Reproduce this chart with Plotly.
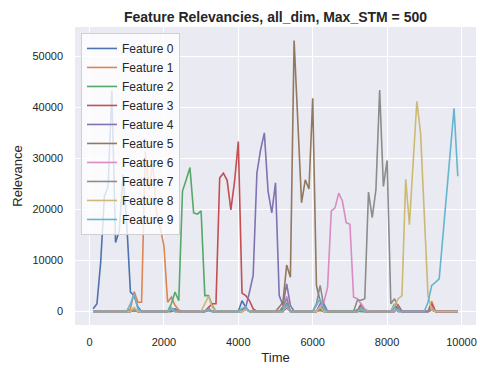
import plotly.graph_objects as go

time = list(range(100, 10000, 100))  # 99 points

def series(points):
    vals = {t: 0 for t in time}
    vals.update(points)
    return [vals[t] for t in time]

feature_0 = series({100: 520, 200: 1500, 300: 9600, 400: 22600, 500: 24500, 600: 43300, 700: 13500,
                    800: 15800, 900: 26800, 1000: 17400, 1100: 3800, 1200: 3100, 1300: 850,
                    2200: 300, 2300: 500, 3200: 200, 4100: 2100, 4200: 800, 5200: 500, 5300: 1500,
                    6200: 1000, 7200: 300, 8200: 800, 9200: 300})
feature_1 = series({1100: 500, 1200: 3900, 1300: 1830, 1400: 1800, 1500: 31400, 1600: 23900,
                    1700: 29100, 1800: 19400, 1900: 16500, 2000: 12900, 2100: 1800, 2200: 2800,
                    2300: 1200, 2400: 300, 3200: 600, 4200: 500, 5300: 800, 6200: 600, 7300: 400,
                    8300: 1000, 9200: 2000})
feature_2 = series({1200: 300, 2200: 1500, 2300: 3800, 2400: 2100, 2500: 23600, 2600: 25800,
                    2700: 28200, 2800: 19300, 2900: 19100, 3000: 19700, 3100: 3100, 3200: 3100,
                    3300: 1200, 4200: 400, 5300: 1200, 6200: 200, 8200: 1500, 9200: 500})
feature_3 = series({1200: 200, 2300: 300, 3200: 800, 3300: 1500, 3400: 1500, 3500: 26200,
                    3600: 27100, 3700: 25700, 3800: 19900, 3900: 25500, 4000: 33300, 4100: 3600,
                    4200: 3100, 4300: 2100, 4400: 500, 5300: 800, 6200: 500, 7300: 1500,
                    8300: 1200, 9200: 1500})
feature_4 = series({1200: 600, 2200: 600, 3200: 500, 4100: 300, 4200: 800, 4300: 3800, 4400: 7100,
                    4500: 27100, 4600: 31700, 4700: 35000, 4800: 23600, 4900: 19300, 5000: 25200,
                    5100: 3100, 5200: 1200, 5300: 5400, 5400: 1200, 6200: 1500, 6300: 1500,
                    7300: 600, 8300: 600, 9200: 300})
feature_5 = series({1200: 300, 2300: 400, 3200: 300, 4200: 500, 5100: 850, 5200: 1800, 5300: 9100,
                    5400: 6700, 5500: 53100, 5600: 37000, 5700: 21300, 5800: 25800, 5900: 24000,
                    6000: 41800, 6100: 5100, 6200: 2000, 6300: 500, 7300: 1300, 8300: 800,
                    9200: 700})
feature_6 = series({1200: 400, 2200: 800, 3200: 400, 4200: 300, 5300: 3000, 6200: 1000, 6300: 1800,
                    6400: 4700, 6500: 19700, 6600: 20300, 6700: 23200, 6800: 21600, 6900: 17400,
                    7000: 17100, 7100: 2800, 7200: 2500, 7300: 1500, 7400: 500, 8300: 400,
                    9200: 800})
feature_7 = series({1200: 200, 2200: 300, 3200: 300, 4200: 600, 5200: 1000, 5300: 2500, 6100: 1500,
                    6200: 5100, 6300: 1000, 7200: 2200, 7300: 2200, 7400: 2500, 7500: 23400,
                    7600: 18400, 7700: 23900, 7800: 43400, 7900: 24500, 8000: 29600, 8100: 1500,
                    8200: 2500, 8300: 800, 9200: 500})
feature_8 = series({1200: 800, 2200: 500, 3100: 1500, 3200: 3000, 3300: 800, 4200: 400, 5300: 1000,
                    6200: 800, 7300: 500, 8200: 1200, 8300: 2500, 8400: 3100, 8500: 25900,
                    8600: 17000, 8700: 28800, 8800: 41200, 8900: 34900, 9000: 20000, 9100: 3100,
                    9200: 300})
feature_9 = series({1100: 1500, 1200: 3400, 1300: 500, 2200: 600, 3200: 400, 4100: 600, 4200: 900,
                    5300: 1200, 6100: 1200, 6200: 2500, 6300: 500, 7300: 600, 8200: 800,
                    9100: 1800, 9200: 5100, 9300: 5700, 9400: 6400, 9500: 14700, 9600: 23100,
                    9700: 31500, 9800: 39800, 9900: 26500})

features = [feature_0, feature_1, feature_2, feature_3, feature_4,
            feature_5, feature_6, feature_7, feature_8, feature_9]
names = [f"Feature {i}" for i in range(10)]
colors = ["#4C72B0", "#DD8452", "#55A868", "#C44E52", "#8172B3",
          "#937860", "#DA8BC3", "#8C8C8C", "#CCB974", "#64B5CD"]

x_ticks = [0, 2000, 4000, 6000, 8000, 10000]
y_ticks = [0, 10000, 20000, 30000, 40000, 50000]

FONT = "Arial, Liberation Sans, sans-serif"

fig = go.Figure()
for name, vals, c in zip(names, features, colors):
    fig.add_trace(go.Scatter(x=time, y=vals, mode="lines", name=name,
                             line=dict(color=c, width=1.6)))

fig.update_layout(
    width=480, height=368,
    margin=dict(l=75, r=4, t=27, b=43, autoexpand=False),
    paper_bgcolor="white", plot_bgcolor="#EAEAF2",
    font=dict(family=FONT, color="#262626", size=11),
    title=dict(text="<b>Feature Relevancies, all_dim, Max_STM = 500</b>",
               x=0.5, xref="paper", xanchor="center",
               y=1 - 17 / 368, yref="container", yanchor="middle",
               font=dict(size=14, color="#262626"), automargin=False),
    xaxis=dict(range=[-390, 10390], tickvals=x_ticks, ticktext=[str(v) for v in x_ticks],
               showgrid=True, gridcolor="white", gridwidth=1, zeroline=False,
               showline=False, ticks="", ticklabelstandoff=9, automargin=False,
               tickfont=dict(size=11),
               title=dict(text="Time", font=dict(size=13), standoff=5)),
    yaxis=dict(range=[-2655, 55755], tickvals=y_ticks, ticktext=[str(v) for v in y_ticks],
               showgrid=True, gridcolor="white", gridwidth=1, zeroline=False,
               showline=False, ticks="", ticklabelstandoff=11, automargin=False,
               tickfont=dict(size=11),
               title=dict(text="Relevance", font=dict(size=13), standoff=6)),
    legend=dict(x=0.015, y=0.98, xanchor="left", yanchor="top",
                bgcolor="rgba(255,255,255,0.8)", bordercolor="#D0D0D0", borderwidth=1,
                itemwidth=30, font=dict(size=12, color="#262626")),
    showlegend=True,
)

fig.write_html("out.html", config={"displayModeBar": False},
               post_script="document.body.style.margin='0';")
